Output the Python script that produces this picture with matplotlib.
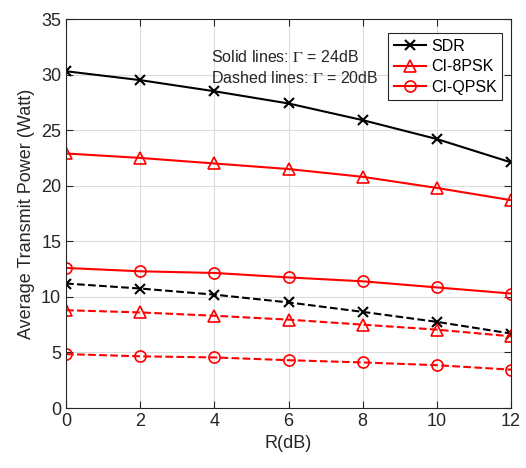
import matplotlib
matplotlib.use("Agg")
import matplotlib.pyplot as plt

plt.rcParams["font.family"] = ["Liberation Sans", "DejaVu Sans"]
plt.rcParams["mathtext.fontset"] = "stix"

r_db = [0, 2, 4, 6, 8, 10, 12]

# Solid lines: Gamma = 24 dB
sdr_24 = [30.3, 29.5, 28.5, 27.4, 25.9, 24.2, 22.1]
psk8_24 = [22.9, 22.5, 22.0, 21.5, 20.8, 19.8, 18.7]
qpsk_24 = [12.6, 12.3, 12.15, 11.75, 11.4, 10.85, 10.3]

# Dashed lines: Gamma = 20 dB
sdr_20 = [11.2, 10.75, 10.2, 9.5, 8.65, 7.75, 6.7]
psk8_20 = [8.8, 8.6, 8.3, 7.95, 7.5, 7.05, 6.45]
qpsk_20 = [4.85, 4.65, 4.55, 4.3, 4.1, 3.85, 3.45]

fig = plt.figure(figsize=(5.26, 4.68), dpi=100)
ax = fig.add_axes([0.1255, 0.1282, 0.846, 0.8312])

lw = 1.5
ms = 8
ax.plot(r_db, sdr_24, "-x", color="black", lw=lw, ms=7, mew=1.5, label="SDR")
ax.plot(r_db, psk8_24, "-^", color="red", lw=lw, ms=ms, mfc="none", mew=1.2, label="CI-8PSK")
ax.plot(r_db, qpsk_24, "-o", color="red", lw=lw, ms=ms, mfc="none", mew=1.2, label="CI-QPSK")
ax.plot(r_db, sdr_20, "--x", color="black", lw=lw, ms=7, mew=1.5)
ax.plot(r_db, psk8_20, "--^", color="red", lw=lw, ms=ms, mfc="none", mew=1.2)
ax.plot(r_db, qpsk_20, "--o", color="red", lw=lw, ms=ms, mfc="none", mew=1.2)

ax.set_xlim(0, 12)
ax.set_ylim(0, 35)
ax.set_xticks(range(0, 13, 2))
ax.set_yticks(range(0, 36, 5))
ax.grid(True, color="#dcdcdc", lw=0.8)
ax.set_axisbelow(True)
ax.tick_params(direction="in", top=True, right=True, labelsize=13, colors="#262626", length=5)
for s in ax.spines.values():
    s.set_color("#262626")
    s.set_linewidth(0.8)

ax.set_xlabel("R(dB)", fontsize=13, color="#262626")
ax.set_ylabel("Average Transmit Power (Watt)", fontsize=13, color="#262626")

ax.text(3.9, 31.1, r"Solid lines: $\Gamma$ = 24dB", fontsize=11.5, color="#262626")
ax.text(3.9, 29.2, r"Dashed lines: $\Gamma$ = 20dB", fontsize=11.5, color="#262626")

leg = ax.legend(loc="upper right", bbox_to_anchor=(0.98, 0.964), fontsize=11.5,
                fancybox=False, framealpha=1, edgecolor="#262626",
                handlelength=2.0, handletextpad=0.3, borderpad=0.35,
                labelspacing=0.35, borderaxespad=0.0)
leg.get_frame().set_linewidth(0.8)

fig.savefig("out.png", dpi=100)
